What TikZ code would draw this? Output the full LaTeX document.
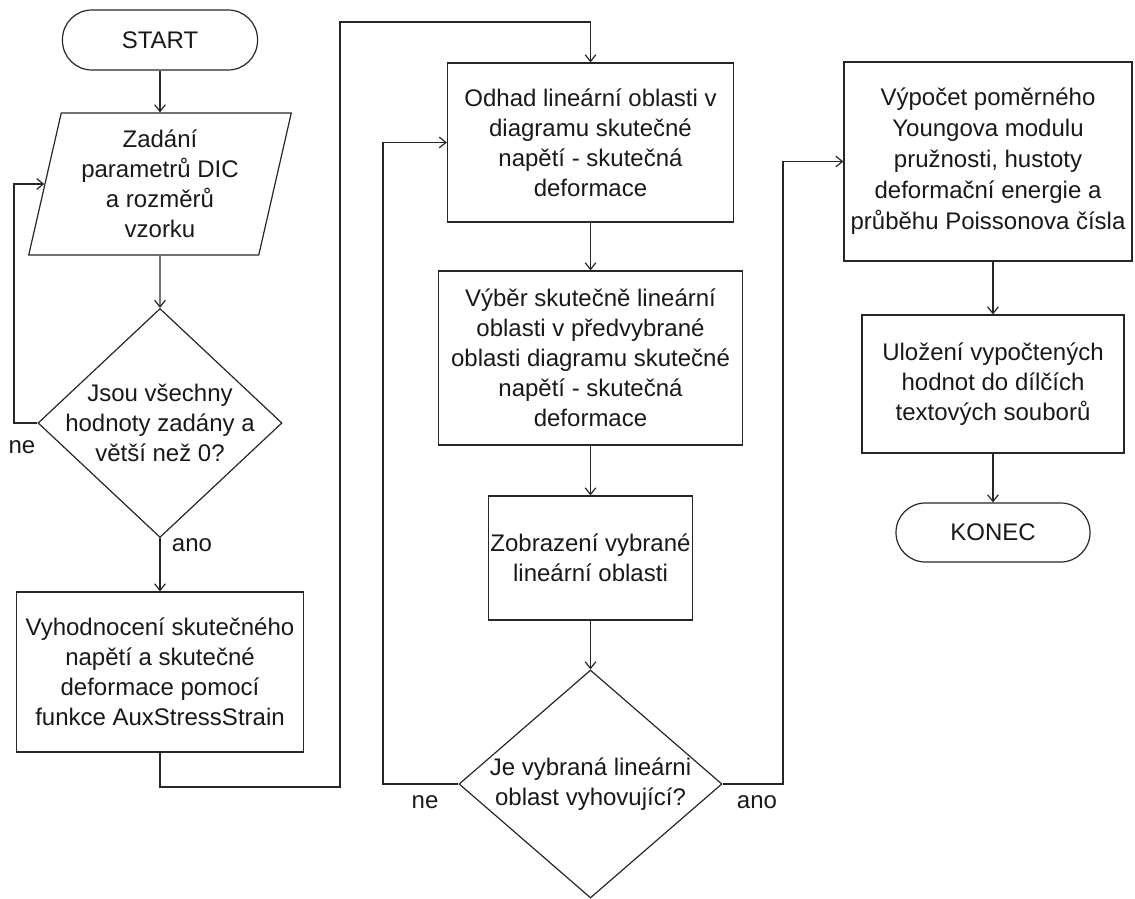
\documentclass[tikz,border=0pt]{standalone}
\usepackage{fontspec}
\setmainfont{Liberation Sans}
\usetikzlibrary{shapes.geometric,arrows.meta}

\begin{document}
\begin{tikzpicture}[x=0.75pt, y=-0.75pt, line width=0.9pt, draw=black!85,
  every node/.style={draw=black!85, align=center, inner sep=0pt, text=black!90, font=\fontsize{18}{22.5}\selectfont},
  proc/.style={rectangle},
  term/.style={rectangle, rounded corners=22pt},
  dec/.style={diamond, inner xsep=-28pt, inner ysep=-20pt},
  io/.style={trapezium, trapezium left angle=76.5, trapezium right angle=103.5, trapezium stretches},
  txt/.style={draw=none},
  arr/.style={-{Straight Barb[length=5pt,width=8pt]}}]
\useasboundingbox (0,0) rectangle (1135,899);
\node[term, minimum width=146.25pt, minimum height=45pt] (C1N0) at (160,40) {START};
\node[io, minimum width=197.25pt, minimum height=106.5pt] (C1N1) at (160,184) {Zadání\\parametrů DIC\\a rozměrů\\vzorku};
\node[dec, minimum width=183pt, minimum height=171.75pt] (C1N2) at (160,423) {Jsou všechny\\hodnoty zadány a\\větší než 0?};
\node[proc, minimum width=215.25pt, minimum height=120pt] (C1N3) at (160,672) {Vyhodnocení skutečného\\napětí a skutečné\\deformace pomocí\\funkce AuxStressStrain};
\node[proc, minimum width=214.5pt, minimum height=119.25pt] (C2N1) at (590.5,142.5) {Odhad lineární oblasti v\\diagramu skutečné\\napětí - skutečná\\deformace};
\node[proc, minimum width=228pt, minimum height=130.5pt] (C2N2) at (590.5,358) {Výběr skutečně lineární\\oblasti v předvybrané\\oblasti diagramu skutečné\\napětí - skutečná\\deformace};
\node[proc, minimum width=153pt, minimum height=93pt] (C2N3) at (590.5,558) {Zobrazení vybrané\\lineární oblasti};
\node[dec, minimum width=197.25pt, minimum height=171pt] (C2N4) at (590.5,784) {Je vybraná lineárni\\oblast vyhovující?};
\node[proc, minimum width=216pt, minimum height=149.25pt, font=\fontsize{18}{23.3}\selectfont] (C3N1) at (988,161.5) {Výpočet poměrného\\Youngova modulu\\pružnosti, hustoty\\deformační energie a\\průběhu Poissonova čísla};
\node[proc, minimum width=196.5pt, minimum height=103.5pt] (C3N2) at (993,384) {Uložení vypočtených\\hodnot do dílčích\\textových souborů};
\node[term, minimum width=145.5pt, minimum height=44.25pt] (C3N3) at (993,532.5) {KONEC};
\node[txt] (L1) at (22,447) {ne};
\node[txt] (L2) at (192,545) {ano};
\node[txt] (L3) at (425,802) {ne};
\node[txt] (L4) at (757,802) {ano};
\coordinate (K1) at (14,423);
\coordinate (K2) at (340,787);
\coordinate (K3) at (340,22);
\coordinate (K4) at (383,784);
\coordinate (K5) at (783,784);
\draw[arr] (C1N0) -- (C1N1);
\draw[arr] (C1N1) -- (C1N2);
\draw[arr] (C1N2.west) -- (K1) |- (C1N1.west);
\draw[arr] (C1N2) -- (C1N3);
\draw[arr] (C1N3.south) |- (K2) -- (K3) -| (C2N1.north);
\draw[arr] (C2N1) -- (C2N2);
\draw[arr] (C2N2) -- (C2N3);
\draw[arr] (C2N3) -- (C2N4);
\draw[arr] (C2N4.west) -- (K4) |- (C2N1.west);
\draw[arr] (C2N4.east) -- (K5) |- (C3N1.west);
\draw[arr] (C3N1.south -| C3N2.north) -- (C3N2.north);
\draw[arr] (C3N2) -- (C3N3);
\end{tikzpicture}
\end{document}
